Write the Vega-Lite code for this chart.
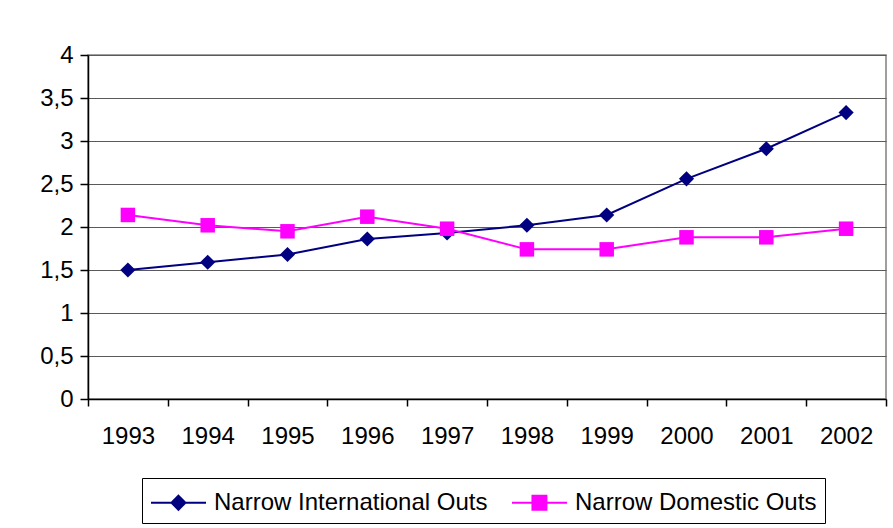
{
  "$schema": "https://vega.github.io/schema/vega-lite/v6.json",
  "autosize": "none",
  "width": 798,
  "height": 344,
  "padding": {"left": 88, "top": 55, "right": 7, "bottom": 129},
  "background": "white",
  "config": {
    "font": "Liberation Sans",
    "view": {"stroke": "#808080", "strokeWidth": 1.5}
  },
  "data": {
    "values": [
      {"year": "1993", "series": "Narrow International Outs", "v": 1.50},
      {"year": "1994", "series": "Narrow International Outs", "v": 1.59},
      {"year": "1995", "series": "Narrow International Outs", "v": 1.68},
      {"year": "1996", "series": "Narrow International Outs", "v": 1.86},
      {"year": "1997", "series": "Narrow International Outs", "v": 1.93},
      {"year": "1998", "series": "Narrow International Outs", "v": 2.02},
      {"year": "1999", "series": "Narrow International Outs", "v": 2.14},
      {"year": "2000", "series": "Narrow International Outs", "v": 2.56},
      {"year": "2001", "series": "Narrow International Outs", "v": 2.91},
      {"year": "2002", "series": "Narrow International Outs", "v": 3.33},
      {"year": "1993", "series": "Narrow Domestic Outs", "v": 2.14},
      {"year": "1994", "series": "Narrow Domestic Outs", "v": 2.02},
      {"year": "1995", "series": "Narrow Domestic Outs", "v": 1.95},
      {"year": "1996", "series": "Narrow Domestic Outs", "v": 2.12},
      {"year": "1997", "series": "Narrow Domestic Outs", "v": 1.98},
      {"year": "1998", "series": "Narrow Domestic Outs", "v": 1.74},
      {"year": "1999", "series": "Narrow Domestic Outs", "v": 1.74},
      {"year": "2000", "series": "Narrow Domestic Outs", "v": 1.88},
      {"year": "2001", "series": "Narrow Domestic Outs", "v": 1.88},
      {"year": "2002", "series": "Narrow Domestic Outs", "v": 1.98}
    ]
  },
  "encoding": {
    "x": {
      "field": "year",
      "type": "ordinal",
      "scale": {"type": "band", "paddingInner": 0, "paddingOuter": 0},
      "axis": {
        "title": null,
        "labelAngle": 0,
        "tickBand": "extent",
        "grid": false,
        "domainColor": "black",
        "domainWidth": 1.5,
        "tickColor": "black",
        "tickWidth": 1.5,
        "tickSize": 7,
        "labelPadding": 18,
        "labelFont": "Liberation Sans",
        "labelFontSize": 24,
        "labelColor": "black"
      }
    },
    "y": {
      "field": "v",
      "type": "quantitative",
      "scale": {"domain": [0, 4], "nice": false},
      "axis": {
        "title": null,
        "values": [0, 0.5, 1, 1.5, 2, 2.5, 3, 3.5, 4],
        "labelExpr": "replace(format(datum.value, '~g'), '.', ',')",
        "grid": true,
        "gridColor": "#5a5a5a",
        "gridWidth": 1,
        "domainColor": "black",
        "domainWidth": 1.5,
        "tickColor": "black",
        "tickWidth": 1.5,
        "tickSize": 8,
        "labelPadding": 7,
        "labelFont": "Liberation Sans",
        "labelFontSize": 24,
        "labelColor": "black"
      }
    },
    "color": {
      "field": "series",
      "type": "nominal",
      "scale": {
        "domain": ["Narrow International Outs", "Narrow Domestic Outs"],
        "range": ["#000080", "#FF00FF"]
      },
      "legend": {
        "title": null,
        "orient": "none",
        "legendX": 54,
        "legendY": 423,
        "direction": "horizontal",
        "strokeColor": "black",
        "fillColor": "white",
        "padding": 8,
        "symbolType": "M-1,0H2.55M0.77,-0.45L1.22,0L0.77,0.45L0.32,0Z",
        "symbolSize": 961,
        "symbolStrokeWidth": 2,
        "labelOffset": 31,
        "columnPadding": 20,
        "labelFont": "Liberation Sans",
        "labelFontSize": 24,
        "labelColor": "black",
        "labelLimit": 500,
        "encode": {
          "symbols": {
            "update": {
              "shape": {"signal": "datum.value === 'Narrow International Outs' ? 'M-1,0H2.55M0.77,-0.45L1.22,0L0.77,0.45L0.32,0Z' : 'M-1,0H2.55M0.32,-0.45H1.22V0.45H0.32Z'"},
              "fill": {"signal": "datum.value === 'Narrow International Outs' ? '#000080' : '#FF00FF'"},
              "stroke": {"signal": "datum.value === 'Narrow International Outs' ? '#000080' : '#FF00FF'"}
            }
          }
        }
      }
    }
  },
  "layer": [
    {"mark": {"type": "line", "strokeWidth": 2}},
    {
      "transform": [{"filter": "datum.series === 'Narrow International Outs'"}],
      "mark": {"type": "point", "shape": "diamond", "filled": true, "opacity": 1, "size": 230}
    },
    {
      "transform": [{"filter": "datum.series === 'Narrow Domestic Outs'"}],
      "mark": {"type": "point", "shape": "square", "filled": true, "opacity": 1, "size": 210}
    }
  ]
}
